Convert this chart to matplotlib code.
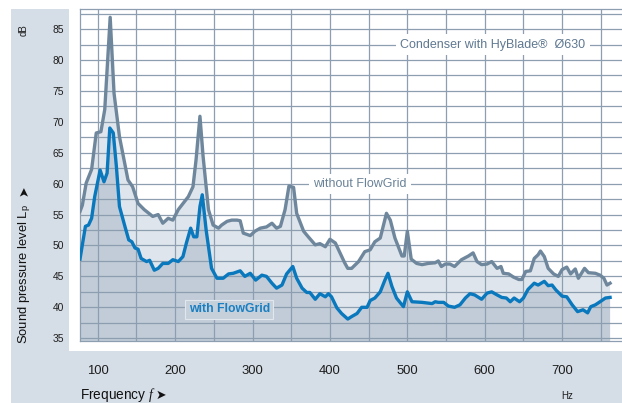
import matplotlib
matplotlib.use("Agg")
import matplotlib.pyplot as plt
from matplotlib.patches import Rectangle
from matplotlib import font_manager as fm

# ---------------- data ----------------
without_f = [77, 80, 85, 92, 98, 104, 109, 116, 121, 128, 139, 145, 152, 160, 171, 178, 184, 191, 197,
             204, 217, 223, 227, 232, 236, 243, 249, 256, 260, 267, 273, 280, 284, 288, 297, 303, 310,
             318, 325, 331, 336, 342, 347, 353, 357, 366, 372, 381, 387, 394, 400, 407, 413, 419, 423,
             428, 437, 445, 452, 458, 465, 473, 478, 484, 493, 496, 500, 505, 512, 519, 527, 536, 540,
             544, 549, 555, 561, 570, 579, 585, 590, 596, 603, 609, 616, 621, 624, 631, 637, 644, 648,
             653, 659, 664, 669, 672, 677, 682, 689, 695, 700, 706, 711, 717, 721, 729, 734, 743, 749,
             754, 758, 762]
without_db = [55.5, 56.5, 60.1, 62.3, 68.2, 68.4, 72.0, 86.9, 74.6, 67.6, 60.6, 59.5, 56.8, 55.8, 54.7,
              55.0, 53.6, 54.4, 54.1, 55.8, 57.9, 59.5, 63.9, 70.9, 64.5, 55.8, 53.3, 52.8, 53.3, 53.9,
              54.1, 54.1, 54.0, 52.0, 51.6, 52.3, 52.8, 53.0, 53.6, 52.8, 53.1, 55.8, 59.6, 59.4, 55.2,
              52.3, 51.4, 50.1, 50.3, 49.8, 51.0, 50.4, 48.8, 47.2, 46.3, 46.3, 47.4, 49.0, 49.3, 50.6,
              51.2, 55.2, 54.1, 51.2, 48.3, 48.3, 52.3, 47.8, 47.1, 46.9, 47.1, 47.2, 47.5, 46.6, 47.0,
              47.0, 46.6, 47.7, 48.3, 48.8, 47.4, 46.9, 47.0, 47.4, 46.3, 46.6, 45.5, 45.4, 44.9, 44.5,
              44.5, 45.8, 45.9, 47.9, 48.5, 49.1, 48.2, 46.3, 45.4, 45.0, 46.1, 46.5, 45.4, 46.2, 44.7,
              46.3, 45.6, 45.5, 45.2, 44.7, 43.6, 43.9]

with_f = [77, 84, 88, 92, 96, 103, 108, 112, 115.5, 120, 124, 128, 135, 140, 144, 148, 152, 156, 163,
          167, 173, 178, 184, 191, 197, 204, 210, 214.5, 220, 224, 228, 232, 235, 240, 247, 254, 262,
          269, 275, 284, 290, 297, 304, 312, 318, 325, 331, 338, 344, 352, 357, 364, 370, 374, 381, 387,
          394, 398, 402, 409, 415, 423, 428, 435, 441, 448, 452, 458, 465, 471, 475, 480, 486, 495, 500,
          506, 519, 532, 536, 540, 547, 553, 561, 568, 575, 581, 587, 596, 603, 609, 616, 622, 628, 633,
          638, 645, 650, 656, 664, 669, 677, 682, 687, 692, 700, 706, 713, 720, 727, 733, 737, 743, 749,
          756, 762]
with_db = [47.8, 53.1, 53.3, 54.4, 57.9, 62.2, 60.3, 61.7, 69.0, 68.2, 62.8, 56.3, 53.1, 50.9, 50.6,
           49.6, 49.4, 47.9, 47.4, 47.6, 46.0, 46.3, 47.1, 47.1, 47.7, 47.4, 48.2, 50.4, 52.8, 51.4, 51.4,
           56.3, 58.2, 52.5, 46.3, 44.7, 44.7, 45.4, 45.5, 45.9, 45.0, 45.5, 44.4, 45.2, 45.0, 43.9, 43.1,
           43.6, 45.4, 46.6, 44.7, 43.1, 42.4, 42.4, 41.3, 42.2, 41.7, 42.2, 41.7, 39.9, 39.0, 38.1, 38.5,
           39.0, 40.0, 40.0, 41.1, 41.5, 42.5, 44.4, 45.5, 43.4, 41.5, 40.1, 42.5, 40.9, 40.8, 40.6, 40.9,
           40.8, 40.8, 40.2, 40.0, 40.4, 41.5, 42.2, 42.0, 41.3, 42.3, 42.5, 42.0, 41.6, 41.5, 40.9, 41.5,
           40.9, 41.5, 42.9, 43.9, 43.6, 44.2, 43.5, 43.6, 42.8, 41.8, 41.7, 40.4, 39.3, 39.6, 39.1, 40.1,
           40.4, 40.9, 41.5, 41.6]

x_ticks = [100, 200, 300, 400, 500, 600, 700]
y_ticks = [35, 40, 45, 50, 55, 60, 65, 70, 75, 80, 85]

title_text = "Condenser with HyBlade\u00ae  \u00d8630"
label_without = "without FlowGrid"
label_with = "with FlowGrid"

# ---------------- style ----------------
names = {f.name for f in fm.fontManager.ttflist}
FONT = "Liberation Sans Narrow" if "Liberation Sans Narrow" in names else "Liberation Sans"
plt.rcParams["font.family"] = [FONT, "DejaVu Sans"]
plt.rcParams["mathtext.fontset"] = "custom"
plt.rcParams["mathtext.rm"] = FONT
plt.rcParams["mathtext.it"] = "Liberation Serif:italic"

panel = "#d5dde6"
grid_c = "#8e9eb1"
fill_without = "#dfe5ec"
fill_with = "#c2ccd8"
line_without = "#6f879c"
line_with = "#0a78bd"
text_c = "#1e1e1e"

W, H = 622, 403
fig = plt.figure(figsize=(W / 100, H / 100), dpi=100)
fig.patch.set_facecolor("white")

fig.patches.append(Rectangle((11 / W, 0), (69 - 11) / W, (H - 9) / H, transform=fig.transFigure,
                             facecolor=panel, edgecolor="none", zorder=-2))
fig.patches.append(Rectangle((11 / W, 0), (W - 11) / W, (H - 351) / H, transform=fig.transFigure,
                             facecolor=panel, edgecolor="none", zorder=-2))

ax = fig.add_axes([80 / W, (H - 341) / H, (W - 80) / W, (341 - 9.3) / H])
ax.set_facecolor("white")

ax.fill_between(without_f, 0, without_db, color=fill_without, lw=0, zorder=1)
ax.fill_between(with_f, 0, with_db, color=fill_with, lw=0, zorder=1.1)
ax.plot(without_f, without_db, color=line_without, lw=2.4, zorder=3, solid_joinstyle="round")
ax.plot(with_f, with_db, color=line_with, lw=2.4, zorder=3.1, solid_joinstyle="round")

ax.set_xticks(x_ticks)
ax.set_xticks([v + 50 for v in x_ticks], minor=True)
ax.set_yticks(y_ticks)
ax.set_yticks([v + 2.5 for v in y_ticks], minor=True)
ax.set_xticklabels([str(v) for v in x_ticks], fontsize=9.4, color=text_c)
ax.set_yticklabels([str(v) for v in y_ticks], fontsize=7.4, color=text_c)
ax.set_xlim(77, 777.4)
ax.set_ylim(34.55, 88.2)
ax.tick_params(which="both", length=0)
ax.tick_params(axis="y", pad=11.5)
ax.tick_params(axis="x", pad=17)
ax.set_axisbelow("line")
ax.grid(which="both", color=grid_c, lw=0.9, zorder=2)
for side in ["left", "top", "bottom"]:
    ax.spines[side].set_color(grid_c)
    ax.spines[side].set_linewidth(0.9)
ax.spines["right"].set_visible(False)

ax.text(610.7, 82.5, title_text, ha="center", va="center", fontsize=9, color="#5f7891",
        bbox=dict(facecolor="white", edgecolor="none", pad=3), zorder=5)
ax.text(439, 60, label_without, ha="center", va="center", fontsize=9, color="#6a8297",
        bbox=dict(facecolor="white", edgecolor="none", pad=3), zorder=5)
ax.text(270, 39.7, label_with, ha="center", va="center", fontsize=8.8, color="#1a7fc1",
        fontweight="bold",
        bbox=dict(facecolor="#c6d0db", edgecolor="#e2e7ee", lw=0.8, pad=2.5), zorder=5)

# axis labels
fig.text(24 / W, 1 - 30 / H, "dB", rotation=90, ha="center", va="center", fontsize=7, color=text_c)
fig.text(25 / W, 1 - 344 / H, r"Sound pressure level L$_\mathrm{p}$", rotation=90, ha="center",
         va="bottom", fontsize=9.4, color="#111111")
fig.text(24 / W, 1 - 191 / H, "\u27a4", rotation=90, ha="center", va="center", fontsize=9,
         color="#111111", family="DejaVu Sans")
fig.text(80 / W, 1 - 395 / H, r"Frequency $f$", ha="left", va="center", fontsize=9.8, color="#111111")
fig.text(161 / W, 1 - 395 / H, "\u27a4", ha="center", va="center", fontsize=9, color="#111111",
         family="DejaVu Sans")
fig.text(567 / W, 1 - 396 / H, "Hz", ha="center", va="center", fontsize=7, color=text_c)

fig.savefig("out.png", dpi=100)
